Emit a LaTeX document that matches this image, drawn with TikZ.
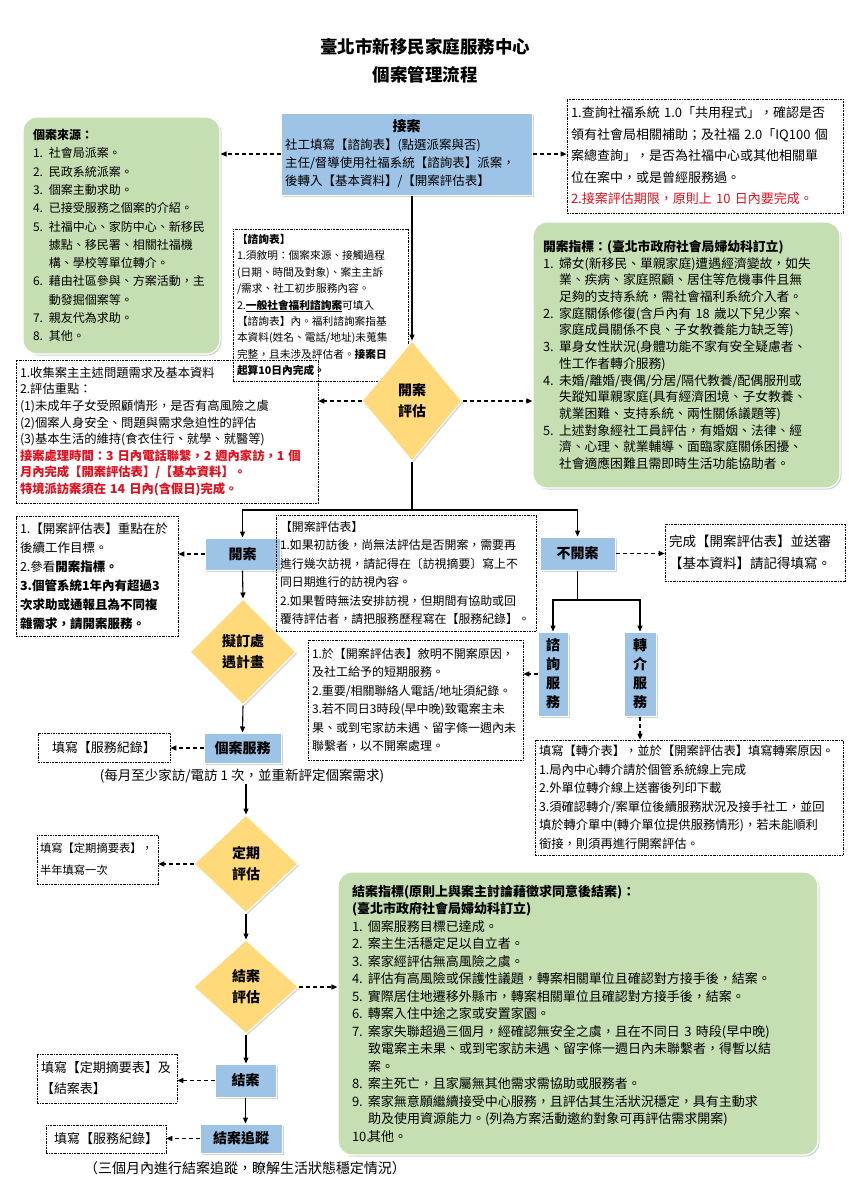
\documentclass[tikz,border=0pt]{standalone}
\usepackage{fontspec}
\setmainfont{Noto Sans CJK TC}
\usepackage{xcolor}
\usepackage{tikz}
\usetikzlibrary{shapes.geometric, arrows.meta, shadows}

\definecolor{leaf}{HTML}{C5DFB3}
\definecolor{sky}{HTML}{9DC3E6}
\definecolor{sand}{HTML}{FFD97A}
\definecolor{alert}{HTML}{E0101E}

\newcommand{\fz}[2]{\fontsize{#1}{#2}\selectfont}
\newcommand{\itm}[1]{\makebox[16pt][l]{#1}}

\begin{document}
\begin{tikzpicture}[x=1pt, y=-1pt,
    note/.style={draw, line width=0.6pt, dash pattern=on 2pt off 1pt on 0.6pt off 1pt,
        align=left, inner xsep=4pt, inner ysep=2pt},
    memo/.style={rounded corners=14pt, fill=leaf, draw=white, line width=1.2pt,
        drop shadow={opacity=0.35, shadow xshift=1.5pt, shadow yshift=-1.5pt},
        align=left, inner xsep=10pt},
    stepbox/.style={fill=sky, draw=white, line width=1pt,
        drop shadow={opacity=0.35, shadow xshift=1.5pt, shadow yshift=-1.5pt},
        font=\bfseries\fz{14}{18}, inner sep=0pt},
    choice/.style={diamond, fill=sand, draw=white, line width=1pt,
        drop shadow={opacity=0.3, shadow xshift=1.5pt, shadow yshift=-1.5pt},
        font=\bfseries\fz{14}{21}, align=center, inner sep=0pt},
    flow/.style={-{Triangle[length=6pt, width=5pt]}, line width=1.1pt},
    hint/.style={flow, dash pattern=on 4pt off 3pt}]

    \fill[white] (0,0) rectangle (849,1200);
    \useasboundingbox (0,0) rectangle (849,1200);

    \node[font=\bfseries\fz{17.5}{28}, align=center] (A) at (425,61) {臺北市新移民家庭服務中心\\個案管理流程};
    \node[stepbox, font=\fz{12.5}{18}, align=left, text width=243pt, minimum height=82pt, inner xsep=4pt] (B) at (406.5,154)
        {\makebox[\linewidth]{\bfseries\fz{14}{18}接案}\\
         社工填寫【諮詢表】(點選派案與否)\\
         主任/督導使用社福系統【諮詢表】派案，\\
         後轉入【基本資料】/【開案評估表】};
    \node[memo, text width=177pt, minimum height=237pt, font=\fz{12}{18.3}] (C) at (121.5,235.5)
        {{\bfseries 個案來源：}\\
         \itm{1.}社會局派案。\\
         \itm{2.}民政系統派案。\\
         \itm{3.}個案主動求助。\\
         \itm{4.}已接受服務之個案的介紹。\\
         \itm{5.}社福中心、家防中心、新移民\\
         \itm{}據點、移民署、相關社福機\\
         \itm{}構、學校等單位轉介。\\
         \itm{6.}藉由社區參與、方案活動，主\\
         \itm{}動發掘個案等。\\
         \itm{7.}親友代為求助。\\
         \itm{8.}其他。};
    \node[note, text width=268pt, minimum height=114pt, font=\fz{13}{21.5}] (D) at (705,156)
        {1.查詢社福系統 1.0「共用程式」，確認是否\\
         領有社會局相關補助；及社福 2.0「IQ100 個\\
         案總查詢」，是否為社福中心或其他相關單\\
         位在案中，或是曾經服務過。\\
         {\color{alert}2.接案評估期限，原則上 10 日內要完成。}};
    \node[note, text width=167pt, minimum height=152pt, font=\fz{10.7}{16.4}] (E) at (320.5,305)
        {{\bfseries【諮詢表】}\\
         1.須敘明：個案來源、接觸過程\\
         (日期、時間及對象)、案主主訴\\
         /需求、社工初步服務內容。\\
         2.\underline{\bfseries 一般社會福利諮詢案}可填入\\
         【諮詢表】內。福利諮詢案指基\\
         本資料(姓名、電話/地址)未蒐集\\
         完整，且未涉及評估者。{\bfseries 接案日}\\
         {\bfseries 起算10日內完成。}};
    \node[choice, minimum width=100pt, minimum height=120pt] (F) at (412,401) {開案\\評估};
    \node[note, text width=294pt, minimum height=143pt, font=\fz{12.3}{16.6}] (G) at (167,431.5)
        {1.收集案主主述問題需求及基本資料\\
         2.評估重點：\\
         (1)未成年子女受照顧情形，是否有高風險之虞\\
         (2)個案人身安全、問題與需求急迫性的評估\\
         (3)基本生活的維持(食衣住行、就學、就醫等)\\
         {\bfseries\color{alert}接案處理時間：3 日內電話聯繫，2 週內家訪，1 個\\
         月內完成【開案評估表】/【基本資料】。\\
         特境派訪案須在 14 日內(含假日)完成。}};
    \node[memo, text width=287pt, minimum height=266pt, font=\fz{12.8}{16.7}] (H) at (686.5,355)
        {{\bfseries 開案指標：(臺北市政府社會局婦幼科訂立)}\\
         \itm{1.}婦女(新移民、單親家庭)遭遇經濟變故，如失\\
         \itm{}業、疾病、家庭照顧、居住等危機事件且無\\
         \itm{}足夠的支持系統，需社會福利系統介入者。\\
         \itm{2.}家庭關係修復(含戶內有 18 歲以下兒少案、\\
         \itm{}家庭成員關係不良、子女教養能力缺乏等)\\
         \itm{3.}單身女性狀況(身體功能不家有安全疑慮者、\\
         \itm{}性工作者轉介服務)\\
         \itm{4.}未婚/離婚/喪偶/分居/隔代教養/配偶服刑或\\
         \itm{}失蹤知單親家庭(具有經濟困境、子女教養、\\
         \itm{}就業困難、支持系統、兩性關係議題等)\\
         \itm{5.}上述對象經社工員評估，有婚姻、法律、經\\
         \itm{}濟、心理、就業輔導、面臨家庭關係困擾、\\
         \itm{}社會適應困難且需即時生活功能協助者。};
    \node[stepbox, minimum width=75pt, minimum height=32pt] (I) at (242.5,554) {開案};
    \coordinate (J) at (412,510);
    \node[note, text width=154pt, minimum height=120pt, font=\fz{12.5}{19}] (K) at (97,576)
        {1.【開案評估表】重點在於\\
         後續工作目標。\\
         2.參看{\bfseries 開案指標。}\\
         {\bfseries 3.個管系統1年內有超過3\\
         次求助或通報且為不同複\\
         雜需求，請開案服務。}};
    \node[note, text width=252pt, minimum height=116pt, font=\fz{11.9}{18.5}] (M) at (406,573)
        {【開案評估表】\\
         1.如果初訪後，尚無法評估是否開案，需要再\\
         進行幾次訪視，請記得在〔訪視摘要〕寫上不\\
         同日期進行的訪視內容。\\
         2.如果暫時無法安排訪視，但期間有協助或回\\
         覆待評估者，請把服務歷程寫在【服務紀錄】。};
    \node[stepbox, minimum width=75pt, minimum height=33pt] (L) at (577.5,553.5) {不開案};
    \node[note, text width=172pt, minimum height=57pt, font=\fz{13.5}{22}] (N) at (755,552.5)
        {完成【開案評估表】並送審\\
         【基本資料】請記得填寫。};
    \coordinate (JJ) at (577.5,600);
    \node[stepbox, minimum width=30pt, minimum height=84pt, align=center, font=\bfseries\fz{14}{19}] (O) at (553,674) {諮\\詢\\服\\務};
    \node[stepbox, minimum width=32pt, minimum height=84pt, align=center, font=\bfseries\fz{14}{19}] (P) at (640,674) {轉\\介\\服\\務};
    \node[note, text width=207pt, minimum height=120pt, font=\fz{12}{18.5}] (Q) at (415.5,700)
        {1.於【開案評估表】敘明不開案原因，\\
         及社工給予的短期服務。\\
         2.重要/相關聯絡人電話/地址須紀錄。\\
         3.若不同日3時段(早中晚)致電案主未\\
         果、或到宅家訪未遇、留字條一週內未\\
         聯繫者，以不開案處理。};
    \node[note, text width=300pt, minimum height=115pt, font=\fz{12.3}{18.5}] (R) at (689,797.5)
        {填寫【轉介表】，並於【開案評估表】填寫轉案原因。\\
         1.局內中心轉介請於個管系統線上完成\\
         2.外單位轉介線上送審後列印下載\\
         3.須確認轉介/案單位後續服務狀況及接手社工，並回\\
         填於轉介單中(轉介單位提供服務情形)，若未能順利\\
         銜接，則須再進行開案評估。};
    \node[choice, minimum width=106pt, minimum height=106pt] (S) at (243,652) {擬訂處\\遇計畫};
    \node[stepbox, minimum width=77pt, minimum height=30pt] (T) at (242.5,748) {個案服務};
    \node[note, minimum width=132pt, minimum height=29pt, align=center, font=\fz{13}{16}] (U) at (104,747.5) {填寫【服務紀錄】};
    \node[font=\fz{13.5}{16}, inner sep=1pt] (V) at (242,776) {(每月至少家訪/電訪 1 次，並重新評定個案需求)};
    \node[choice, minimum width=104pt, minimum height=98pt] (W) at (246,864) {定期\\評估};
    \node[note, text width=115pt, minimum height=49pt, font=\fz{11.3}{22}, inner xsep=3pt] (X) at (97.5,859.5)
        {填寫【定期摘要表】，\\
         半年填寫一次};
    \node[choice, minimum width=105pt, minimum height=94pt] (Y) at (246,987) {結案\\評估};
    \node[memo, text width=452pt, minimum height=283pt, font=\fz{13}{17.5}, inner xsep=14pt] (Z) at (578,1013.5)
        {{\bfseries 結案指標(原則上與案主討論藉徵求同意後結案)：}\\
         {\bfseries (臺北市政府社會局婦幼科訂立)}\\
         \itm{1.}個案服務目標已達成。\\
         \itm{2.}案主生活穩定足以自立者。\\
         \itm{3.}案家經評估無高風險之虞。\\
         \itm{4.}評估有高風險或保護性議題，轉案相關單位且確認對方接手後，結案。\\
         \itm{5.}實際居住地遷移外縣市，轉案相關單位且確認對方接手後，結案。\\
         \itm{6.}轉案入住中途之家或安置家園。\\
         \itm{7.}案家失聯超過三個月，經確認無安全之虞，且在不同日 3 時段(早中晚)\\
         \itm{}致電案主未果、或到宅家訪未遇、留字條一週日內未聯繫者，得暫以結\\
         \itm{}案。\\
         \itm{8.}案主死亡，且家屬無其他需求需協助或服務者。\\
         \itm{9.}案家無意願繼續接受中心服務，且評估其生活狀況穩定，具有主動求\\
         \itm{}助及使用資源能力。(列為方案活動邀約對象可再評估需求開案)\\
         \itm{10.}其他。};
    \node[stepbox, minimum width=61pt, minimum height=33pt] (AA) at (245.5,1080.5) {結案};
    \node[note, text width=132pt, minimum height=49pt, font=\fz{13}{21}] (AB) at (107,1078.5)
        {填寫【定期摘要表】及\\
         【結案表】};
    \node[stepbox, minimum width=82pt, minimum height=29pt] (AC) at (241,1138.5) {結案追蹤};
    \node[note, minimum width=120pt, minimum height=28pt, align=center, font=\fz{13}{16}] (AD) at (106,1139) {填寫【服務紀錄】};
    \node[font=\fz{14}{16}, inner sep=1pt] (AE) at (245,1168) {（三個月內進行結案追蹤，瞭解生活狀態穩定情況）};

    \draw[hint] (B.west) -- (B.west -| C.east);
    \draw[hint] (B.east) -- (B.east -| D.west);
    \draw[flow] (B.south -| F.north) -- (F.north);
    \draw[hint] (F.west) -- (F.west -| G.east);
    \draw[hint] (F.east) -- (F.east -| H.west);
    \draw[line width=1.1pt] (F.south) -- (J);
    \draw[flow] (J) -| (I.north);
    \draw[flow] (J) -| (L.north);
    \draw[hint] (I.west) -- (I.west -| K.east);
    \draw[flow] (I.south) -- (S.north);
    \draw[hint] (L.east) -- (L.east -| N.west);
    \draw[line width=1.1pt] (L.south) -- (JJ);
    \draw[flow] (JJ) -| (O.north);
    \draw[flow] (JJ) -| (P.north);
    \draw[hint] (O.west) -- (O.west -| Q.east);
    \draw[hint] (P.south) -- (P.south |- R.north);
    \draw[flow] (S.south) -- (T.north);
    \draw[hint] (T.west) -- (T.west -| U.east);
    \draw[flow] (V.south -| W.north) -- (W.north);
    \draw[hint] (W.west) -- (W.west -| X.east);
    \draw[flow] (W.south) -- (Y.north);
    \draw[hint] (Y.east) -- (Y.east -| Z.west);
    \draw[flow] (Y.south) -- (Y.south |- AA.north);
    \draw[hint] (AA.west) -- (AA.west -| AB.east);
    \draw[flow] (AA.south) -- (AA.south |- AC.north);
    \draw[hint] (AC.west) -- (AC.west -| AD.east);
\end{tikzpicture}
\end{document}
